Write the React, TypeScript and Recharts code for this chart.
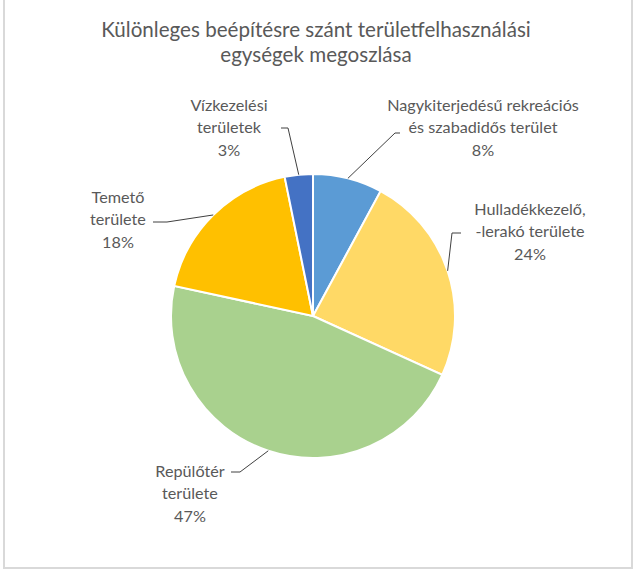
import { Cell, Pie, PieChart } from "recharts";

const categories = [
  "Nagykiterjedésű rekreációs és szabadidős terület",
  "Hulladékkezelő, -lerakó területe",
  "Repülőtér területe",
  "Temető területe",
  "Vízkezelési területek",
];
const values = [7.9, 23.9, 46.6, 18.4, 3.2];
const labelLines = [
  ["Nagykiterjedésű rekreációs", "és szabadidős terület"],
  ["Hulladékkezelő,", "-lerakó területe"],
  ["Repülőtér", "területe"],
  ["Temető", "területe"],
  ["Vízkezelési", "területek"],
];
const colors = ["#5b9bd5", "#ffd966", "#a9d18e", "#ffc000", "#4472c4"];

// label layout relative to the pie centre: elbow, line end, text centre, first line y
const layout = [
  { ex: 82, ey: -183, lx: 87, tx: 170, ty: -212 },
  { ex: 139, ey: -83, lx: 148, tx: 217, ty: -108 },
  { ex: -73, ey: 156, lx: -82, tx: -123, ty: 154 },
  { ex: -146, ey: -94, lx: -160, tx: -195, ty: -120 },
  { ex: -25, ey: -188, lx: -32, tx: -84, ty: -212 },
];

const data = categories.map((name, i) => ({ name, value: values[i] }));
const RAD = Math.PI / 180;
const font = "Lato, 'Open Sans', sans-serif";

function renderLabel(props: any) {
  const { cx, cy, midAngle, outerRadius, index, percent } = props;
  const l = layout[index];
  const sx = cx + outerRadius * Math.cos(-midAngle * RAD);
  const sy = cy + outerRadius * Math.sin(-midAngle * RAD);
  const lines = [...labelLines[index], `${Math.round(percent * 100)}%`];
  return (
    <g>
      <polyline
        points={`${sx},${sy} ${cx + l.ex},${cy + l.ey} ${cx + l.lx},${cy + l.ey}`}
        fill="none"
        stroke="#404040"
        strokeWidth={1}
      />
      {lines.map((t, j) => (
        <text
          key={j}
          x={cx + l.tx}
          y={cy + l.ty + j * 22.5}
          textAnchor="middle"
          dominantBaseline="central"
          fill="#595959"
          fontSize={16.2}
          fontFamily={font}
        >
          {t}
        </text>
      ))}
    </g>
  );
}

export default function App() {
  return (
    <div style={{ position: "fixed", left: 0, top: 0, width: 637, height: 573, background: "#fff" }}>
      <div
        style={{
          position: "absolute",
          left: 3,
          top: -10,
          width: 626,
          height: 575,
          border: "2px solid #d9d9d9",
        }}
      />
      <div
        style={{
          position: "absolute",
          left: 0,
          top: 17,
          width: 632,
          textAlign: "center",
          fontFamily: font,
          fontSize: 20.6,
          lineHeight: "25px",
          color: "#595959",
        }}
      >
        Különleges beépítésre szánt területfelhasználási
        <br />
        egységek megoszlása
      </div>
      <div style={{ position: "absolute", left: 0, top: 0 }}>
        <PieChart width={637} height={573} margin={{ top: 0, right: 0, bottom: 0, left: 0 }}>
          <Pie
            data={data}
            dataKey="value"
            nameKey="name"
            cx={313}
            cy={316}
            outerRadius={142}
            startAngle={90}
            endAngle={-270}
            stroke="#fff"
            strokeWidth={2}
            label={renderLabel}
            labelLine={false}
            isAnimationActive={false}
          >
            {data.map((entry, i) => (
              <Cell key={entry.name} fill={colors[i]} />
            ))}
          </Pie>
        </PieChart>
      </div>
    </div>
  );
}
